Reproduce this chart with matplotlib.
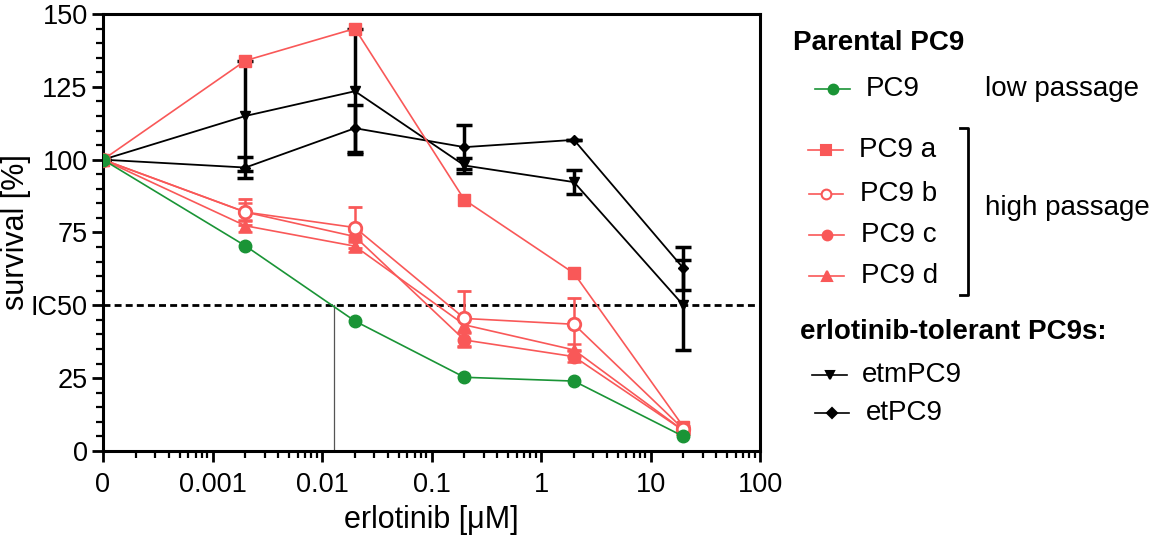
import matplotlib.pyplot as plt
from matplotlib.lines import Line2D

plt.rcParams['font.family'] = ['Liberation Sans', 'DejaVu Sans']

# concentrations in uM; the untreated control (0) sits one decade below 0.001
conc = [1e-4, 0.002, 0.02, 0.2, 2, 20]
xtick_vals = [1e-4, 1e-3, 1e-2, 1e-1, 1, 10, 100]
xtick_labels = ['0', '0.001', '0.01', '0.1', '1', '10', '100']
ytick_vals = [0, 25, 50, 75, 100, 125, 150]
ytick_labels = ['0', '25', 'IC50', '75', '100', '125', '150']
ic50 = 0.0129

pc9 = [100, 70.4, 44.6, 25.3, 24.0, 5.0]
pc9_a = [100, 134.0, 145.0, 86.2, 61.0, 8.3]
pc9_b = [100, 82.0, 76.7, 45.5, 43.5, 7.5]
pc9_c = [100, 82.0, 73.6, 38.1, 32.4, 7.0]
pc9_d = [100, 77.3, 70.3, 43.3, 34.7, 7.0]
etm_pc9 = [100, 115.0, 123.5, 98.0, 92.3, 50.0]
et_pc9 = [100, 97.3, 110.8, 104.3, 106.8, 62.7]

err_b = [0, 4.5, 7.0, 9.5, 9.0, 1.0]
err_c = [0, 3.0, 2.0, 2.5, 2.0, 1.0]
err_d = [0, 2.0, 2.0, 2.5, 2.0, 1.0]
err_etm = [0, 19.0, 21.5, 2.5, 4.0, 15.5]
err_et = [0, 3.5, 8.0, 7.5, 0, 7.3]

red = '#F95858'
green = '#1A9436'

fig = plt.figure(figsize=(11.53, 5.37), dpi=100)
ax = fig.add_axes([103/1153, 86/537, 657/1153, 437/537])
ax.set_xscale('log')

# reference lines
ax.axhline(50, color='black', lw=2, ls=(0, (2.5, 1.5)), zorder=1)
ax.plot([ic50, ic50], [0, 50], color='#555555', lw=0.9, zorder=1)

# black series
ax.errorbar(conc, etm_pc9, yerr=err_etm, color='black', lw=1.3, marker='v', ms=7,
            ecolor='black', elinewidth=2.5, capsize=6, capthick=2.5, zorder=3)
ax.errorbar(conc, et_pc9, yerr=err_et, color='black', lw=1.3, marker='D', ms=5.5,
            ecolor='black', elinewidth=2.5, capsize=6, capthick=2.5, zorder=3)

# red series
ax.errorbar(conc, pc9_d, yerr=err_d, color=red, lw=1.2, marker='^', ms=8,
            elinewidth=1.8, capsize=5, capthick=1.8, zorder=4)
ax.errorbar(conc, pc9_c, yerr=err_c, color=red, lw=1.2, marker='o', ms=9,
            elinewidth=1.8, capsize=5, capthick=1.8, zorder=4)
ax.errorbar(conc, pc9_b, yerr=err_b, color=red, lw=1.2, marker='o', ms=9, mfc='white',
            mew=2, elinewidth=1.8, capsize=5, capthick=1.8, zorder=4)
ax.plot(conc, pc9_a, color=red, lw=1.2, marker='s', ms=8.5, zorder=4)

# green
ax.plot(conc, pc9, color=green, lw=1.2, marker='o', ms=9, zorder=5)

ax.set_xlim(1e-4, 100)
ax.set_ylim(0, 150)
ax.set_xticks(xtick_vals)
ax.set_xticklabels(xtick_labels)
ax.set_yticks(ytick_vals)
ax.set_yticklabels(ytick_labels)
ax.set_yticks(range(0, 151, 5), minor=True)
for s in ax.spines.values():
    s.set_linewidth(2.2)
ax.tick_params(which='major', length=8, width=2, labelsize=19.5, pad=3)
ax.tick_params(which='minor', length=5, width=1.6)
ax.tick_params(axis='x', which='major', pad=7)
ax.set_xlabel('erlotinib [\u03bcM]', fontsize=22, labelpad=5)
ax.set_ylabel('survival [%]', fontsize=22, labelpad=0)


# legend drawn by hand in figure pixels
def fx(x):
    return x / 1153


def fy(y):
    return 1 - y / 537


def entry(x0, x1, y, color, marker, ms, mfc=None, label='', tx=None):
    fig.add_artist(Line2D([fx(x0), fx(x1)], [fy(y), fy(y)], color=color, lw=1.2,
                          transform=fig.transFigure))
    fig.add_artist(Line2D([fx((x0 + x1) / 2)], [fy(y)], color=color, marker=marker,
                          ms=ms, mfc=mfc if mfc else color, mew=1.5,
                          transform=fig.transFigure))
    fig.text(fx(tx), fy(y), label, fontsize=20, va='center', ha='left')


fig.text(fx(793), fy(43), 'Parental PC9', fontsize=20, fontweight='bold', va='center')
entry(815, 850, 89, green, 'o', 7, label='PC9', tx=866)
fig.text(fx(985), fy(89), 'low passage', fontsize=20, va='center')
entry(808, 843, 150, red, 's', 7, label='PC9 a', tx=859)
entry(809, 843, 194, red, 'o', 7, mfc='white', label='PC9 b', tx=860)
entry(809, 844, 235, red, 'o', 7, label='PC9 c', tx=861)
entry(809, 844, 276, red, '^', 7, label='PC9 d', tx=861)
fig.add_artist(Line2D([fx(960), fx(968), fx(968), fx(960)],
                      [fy(128), fy(128), fy(295), fy(295)], color='black', lw=2,
                      transform=fig.transFigure))
fig.text(fx(985), fy(208), 'high passage', fontsize=20, va='center')
fig.text(fx(800), fy(332), 'erlotinib-tolerant PC9s:', fontsize=20, fontweight='bold',
         va='center')
entry(812, 847, 375, 'black', 'v', 6, label='etmPC9', tx=862)
entry(815, 849, 413, 'black', 'D', 5, label='etPC9', tx=866)

fig.savefig('out.png', dpi=100)
